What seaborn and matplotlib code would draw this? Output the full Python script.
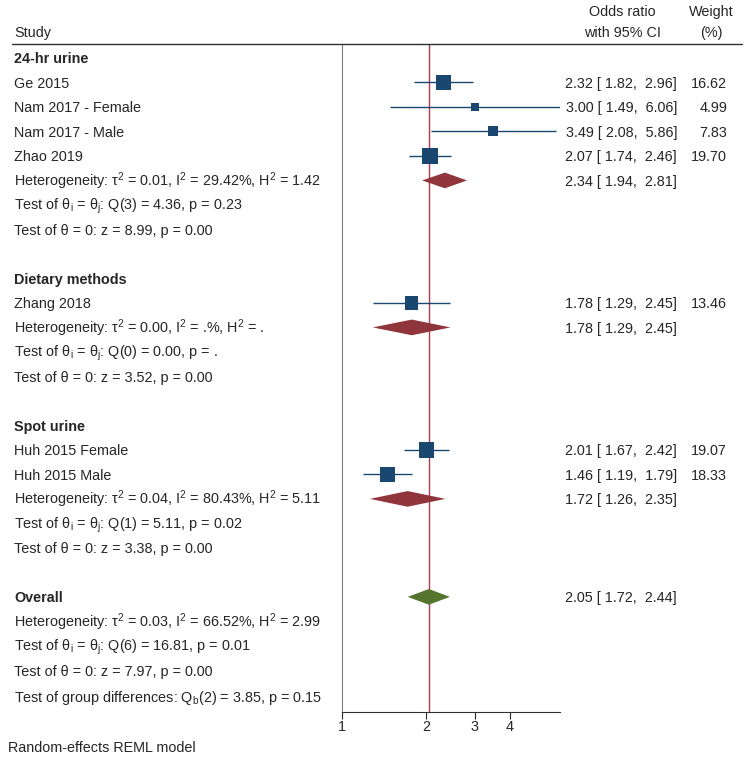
import numpy as np
import pandas as pd
import seaborn as sns
import matplotlib.pyplot as plt
import matplotlib.transforms as mtransforms

sns.set_style("white")
plt.rcParams['font.family'] = ['Liberation Sans', 'DejaVu Sans']
plt.rcParams['mathtext.fontset'] = 'custom'
plt.rcParams['mathtext.rm'] = 'Liberation Sans'
plt.rcParams['mathtext.it'] = 'Liberation Sans'

# study-level data
studies = ["Ge 2015", "Nam 2017 - Female", "Nam 2017 - Male", "Zhao 2019",
           "Zhang 2018", "Huh 2015 Female", "Huh 2015 Male"]
study_rows = [1, 2, 3, 4, 10, 16, 17]
odds = [2.32, 3.00, 3.49, 2.07, 1.78, 2.01, 1.46]
ci_low = [1.82, 1.49, 2.08, 1.74, 1.29, 1.67, 1.19]
ci_high = [2.96, 6.06, 5.86, 2.46, 2.45, 2.42, 1.79]
weights = [16.62, 4.99, 7.83, 19.70, 13.46, 19.07, 18.33]

# pooled estimates (subgroups + overall)
pool_rows = [5, 11, 18, 22]
pool_or = [2.34, 1.78, 1.72, 2.05]
pool_low = [1.94, 1.29, 1.26, 1.72]
pool_high = [2.81, 2.45, 2.35, 2.44]
pool_colors = ["#90353b", "#90353b", "#90353b", "#55752f"]

group_rows = [0, 9, 15, 22]
group_names = ["24-hr urine", "Dietary methods", "Spot urine", "Overall"]

stat_rows = [5, 6, 7, 11, 12, 13, 18, 19, 20, 23, 24, 25, 26.1]
stat_text = [
    r"Heterogeneity: τ$^2$ = 0.01, I$^2$ = 29.42%, H$^2$ = 1.42",
    r"Test of θ$_\mathrm{i}$ = θ$_\mathrm{j}$: Q(3) = 4.36, p = 0.23",
    "Test of θ = 0: z = 8.99, p = 0.00",
    r"Heterogeneity: τ$^2$ = 0.00, I$^2$ = .%, H$^2$ = .",
    r"Test of θ$_\mathrm{i}$ = θ$_\mathrm{j}$: Q(0) = 0.00, p = .",
    "Test of θ = 0: z = 3.52, p = 0.00",
    r"Heterogeneity: τ$^2$ = 0.04, I$^2$ = 80.43%, H$^2$ = 5.11",
    r"Test of θ$_\mathrm{i}$ = θ$_\mathrm{j}$: Q(1) = 5.11, p = 0.02",
    "Test of θ = 0: z = 3.38, p = 0.00",
    r"Heterogeneity: τ$^2$ = 0.03, I$^2$ = 66.52%, H$^2$ = 2.99",
    r"Test of θ$_\mathrm{i}$ = θ$_\mathrm{j}$: Q(6) = 16.81, p = 0.01",
    "Test of θ = 0: z = 7.97, p = 0.00",
    r"Test of group differences: Q$_\mathrm{b}$(2) = 3.85, p = 0.15",
]

xticks = [1, 2, 3, 4]

df = pd.DataFrame({"study": studies, "row": study_rows, "or": odds,
                   "lo": ci_low, "hi": ci_high, "w": weights})

fig = plt.figure(figsize=(7.45, 7.61), dpi=100)
ax = fig.add_axes([342 / 745, 1 - 712 / 761, (560 - 342) / 745, (712 - 44) / 761])
ax.set_xscale("log")
ax.set_xlim(1, 6.06)
ax.set_ylim(26.7, -0.57)

navy = "#1a476f"
# confidence intervals
ax.hlines(df["row"], df["lo"], df["hi"], color=navy, lw=1, zorder=2)
# weight squares (area proportional to weight)
sns.scatterplot(data=df, x="or", y="row", size="w", marker="s", color=navy,
                sizes=(6.7 * min(weights), 6.7 * max(weights)),
                size_norm=(min(weights), max(weights)), legend=False,
                edgecolor="none", ax=ax, zorder=3)

# pooled diamonds
for r, est, lo, hi, c in zip(pool_rows, pool_or, pool_low, pool_high, pool_colors):
    ax.fill([lo, est, hi, est], [r, r - 0.32, r, r + 0.32], color=c, lw=0, zorder=3)

# overall effect line
ax.axvline(pool_or[-1], color="#b03a52", lw=1, zorder=1)

fs = 10.4
ax.set_xticks(xticks)
ax.set_xticklabels([str(t) for t in xticks], fontsize=fs)
ax.xaxis.set_minor_locator(plt.NullLocator())
ax.tick_params(axis="x", direction="out", length=5, width=0.8, pad=1, bottom=True)
ax.set_yticks([])
ax.set_xlabel("")
ax.set_ylabel("")
for s in ["top", "right"]:
    ax.spines[s].set_visible(False)
ax.spines["left"].set_color("#808080")
ax.spines["left"].set_linewidth(0.8)
ax.spines["bottom"].set_color("#303030")
ax.spines["bottom"].set_linewidth(0.8)

trans = mtransforms.blended_transform_factory(fig.transFigure, ax.transData)
x_left = 14 / 745
x_or = 677 / 745
x_w = 727 / 745
bl = 0.21  # baseline shift so the cap height is centred on the row


def row_text(x, r, s, ha="left", **kw):
    ax.text(x, r + bl, s, transform=trans, ha=ha, va="baseline",
            fontsize=fs, clip_on=False, **kw)


for r, name in zip(group_rows, group_names):
    row_text(x_left, r, name, fontweight="bold")
for r, name in zip(study_rows, studies):
    row_text(x_left, r, name)
for r, t in zip(stat_rows, stat_text):
    row_text(x_left, r, t)

for r, est, lo, hi, w in zip(study_rows, odds, ci_low, ci_high, weights):
    row_text(x_or, r, f"{est:.2f} [ {lo:.2f},  {hi:.2f}]", ha="right")
    row_text(x_w, r, f"{w:.2f}", ha="right")
for r, est, lo, hi in zip(pool_rows, pool_or, pool_low, pool_high):
    row_text(x_or, r, f"{est:.2f} [ {lo:.2f},  {hi:.2f}]", ha="right")

# header
fig.text(14 / 745, 1 - 33 / 761, "Study", ha="left", va="center", fontsize=fs)
fig.text(622 / 745, 1 - 12 / 761, "Odds ratio", ha="center", va="center", fontsize=fs)
fig.text(622 / 745, 1 - 33 / 761, "with 95% CI", ha="center", va="center", fontsize=fs)
fig.text(711 / 745, 1 - 12 / 761, "Weight", ha="center", va="center", fontsize=fs)
fig.text(711 / 745, 1 - 33 / 761, "(%)", ha="center", va="center", fontsize=fs)
fig.add_artist(plt.Line2D([12 / 745, 742 / 745], [1 - 44 / 761, 1 - 44 / 761],
                          color="#303030", lw=1, transform=fig.transFigure))

fig.text(8 / 745, 1 - 748 / 761, "Random-effects REML model", ha="left",
         va="center", fontsize=fs)

fig.savefig("out.png", dpi=100)
